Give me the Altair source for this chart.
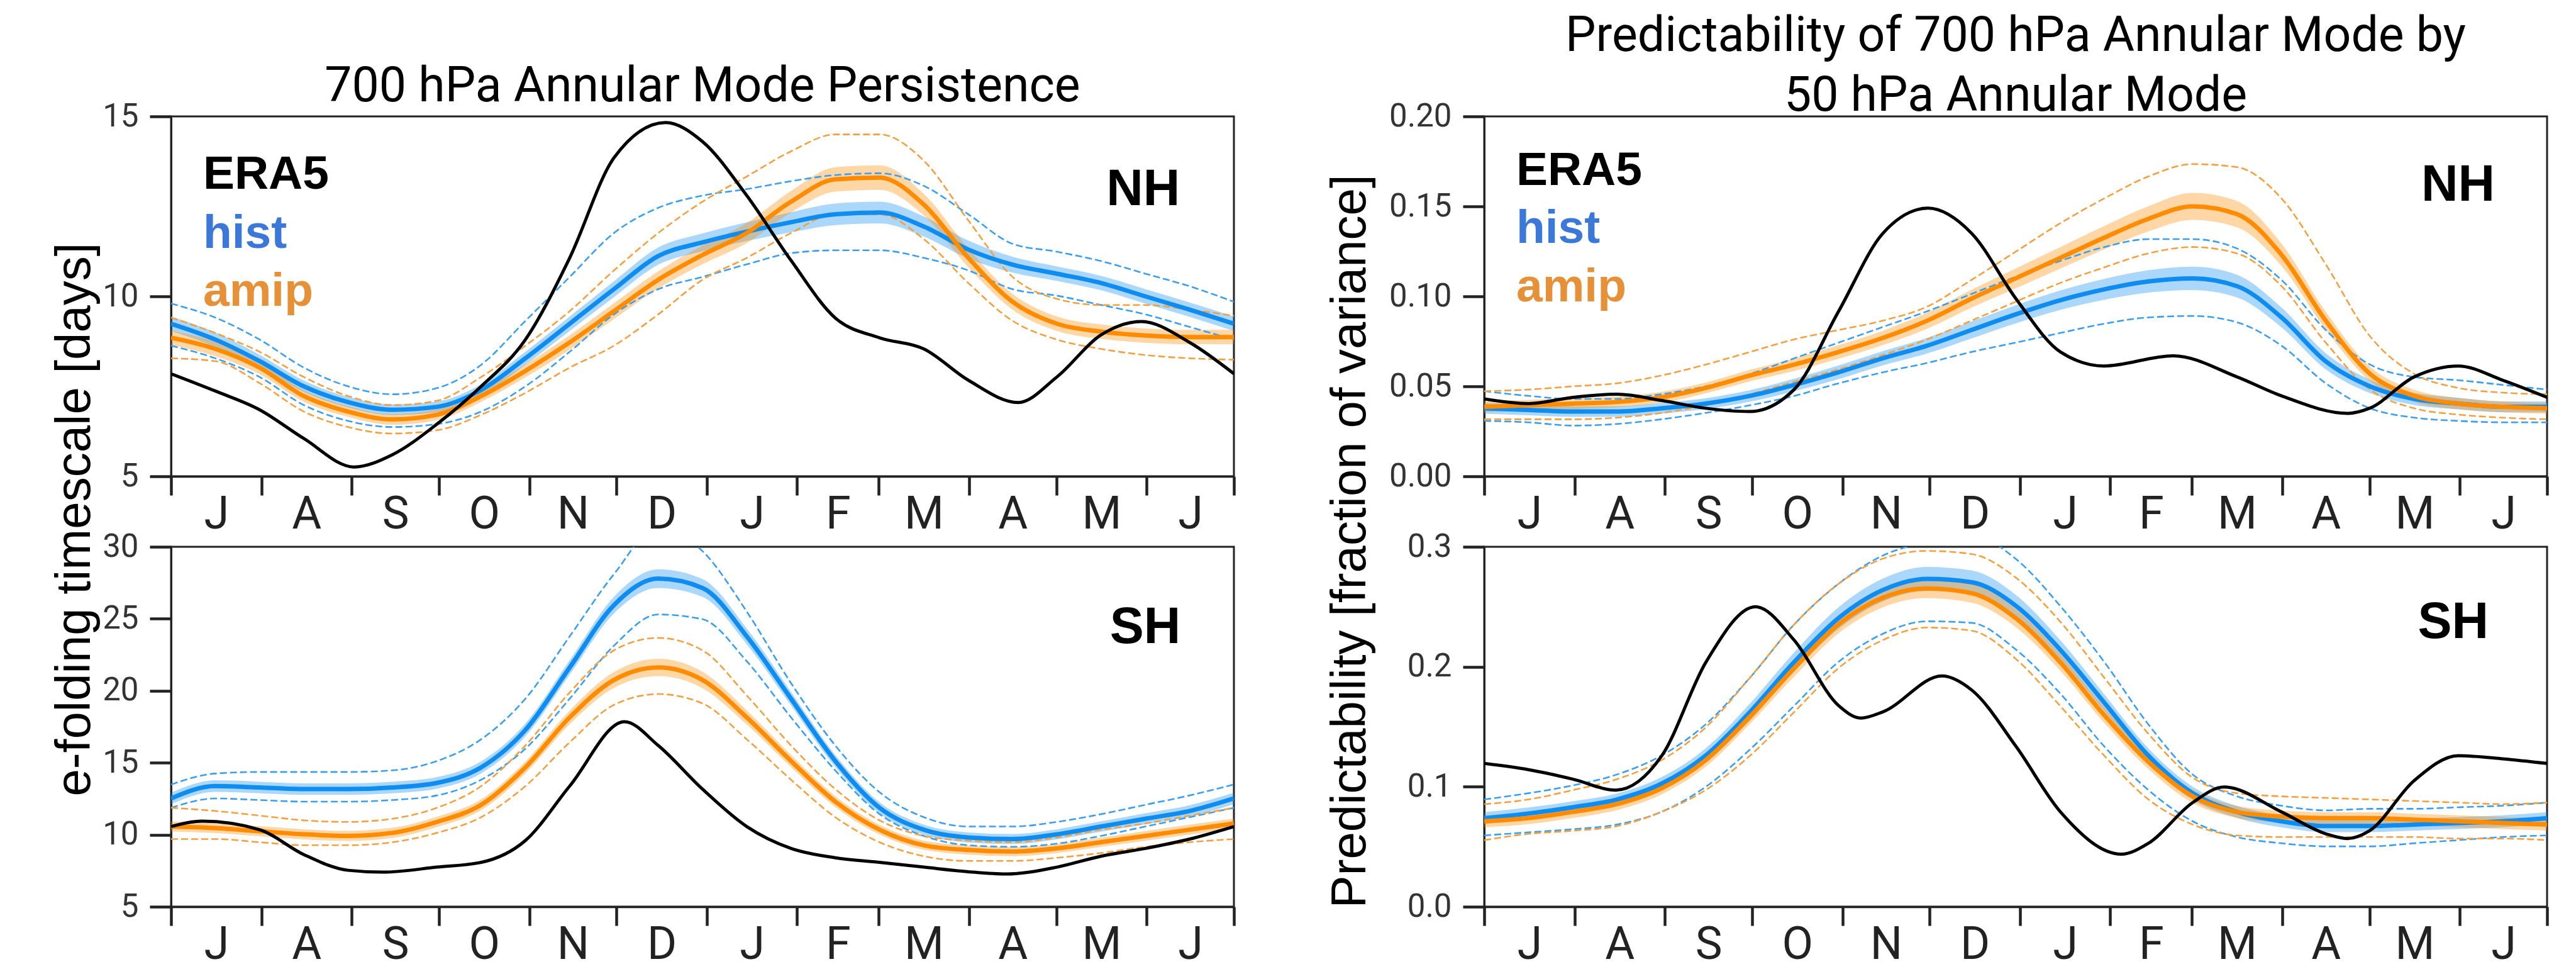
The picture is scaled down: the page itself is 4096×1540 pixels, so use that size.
import altair as alt
import pandas as pd

# ---------------- shared axis data ----------------
DAYS = [0, 15.2, 30.4, 45.6, 60.8, 76.0, 91.3, 106.5, 121.7, 136.9, 152.1, 167.3,
        182.5, 197.7, 212.9, 228.1, 243.3, 258.5, 273.8, 289.0, 304.2, 319.4,
        334.6, 349.8, 365.0]
MONTH_STARTS = [0, 31, 62, 92, 123, 153, 184, 215, 243, 274, 304, 335, 365]
MONTH_MIDS = [15.5, 46.5, 77, 107.5, 138, 168.5, 199.5, 229, 258.5, 289, 319.5, 350]
MONTH_LABELS = ["J", "A", "S", "O", "N", "D", "J", "F", "M", "A", "M", "J"]

# ---------------- NH persistence (top left) ----------------
NHP_ERA5_DAYS = [0, 15.2, 30.4, 45.6, 62.8, 76.0, 91.3, 106.5, 121.7, 136.9, 152.1,
                 169.8, 182.5, 197.7, 212.9, 228.1, 243.3, 258.5, 273.8, 290.9,
                 304.2, 319.4, 333.2, 349.8, 365.0]
NHP_ERA5 = [7.85, 7.37, 6.85, 6.05, 5.26, 5.6, 6.45, 7.5, 8.8, 11.07, 13.85, 14.83,
            14.3, 12.8, 11.0, 9.4, 8.85, 8.54, 7.67, 7.05, 7.76, 8.93, 9.3, 8.72, 7.85]
NHP_HIST = [9.24, 8.8, 8.2, 7.5, 7.06, 6.85, 6.93, 7.4, 8.28, 9.24, 10.2, 11.12, 11.5,
            11.8, 12.06, 12.28, 12.33, 11.94, 11.3, 10.88, 10.63, 10.37, 10.0, 9.63, 9.24]
NHP_HIST_HI = [9.8, 9.41, 8.8, 8.02, 7.5, 7.28, 7.45, 8.1, 9.32, 10.54, 11.76, 12.46,
               12.8, 12.98, 13.2, 13.37, 13.42, 13.07, 12.28, 11.46, 11.24, 10.98,
               10.63, 10.28, 9.85]
NHP_HIST_LO = [8.63, 8.28, 7.76, 6.98, 6.54, 6.37, 6.45, 6.8, 7.5, 8.46, 9.5, 10.2,
               10.54, 10.89, 11.2, 11.28, 11.28, 11.07, 10.72, 10.2, 10.02, 9.76, 9.5,
               9.15, 8.8]
NHP_HIST_BAND = [0.2, 0.2, 0.18, 0.16, 0.15, 0.15, 0.15, 0.16, 0.18, 0.2, 0.22, 0.24,
                 0.25, 0.26, 0.28, 0.3, 0.3, 0.28, 0.25, 0.22, 0.2, 0.2, 0.2, 0.2, 0.2]
NHP_AMIP = [8.85, 8.54, 8.02, 7.23, 6.8, 6.58, 6.71, 7.23, 7.93, 8.72, 9.59, 10.46,
            11.15, 11.76, 12.63, 13.25, 13.3, 12.55, 11.07, 9.85, 9.24, 9.02, 8.91,
            8.87, 8.87]
NHP_AMIP_HI = [9.41, 8.98, 8.46, 7.76, 7.23, 6.98, 7.1, 7.76, 8.63, 9.59, 10.72, 11.76,
               12.63, 13.33, 14.03, 14.5, 14.5, 13.77, 12.11, 10.54, 9.93, 9.76, 9.76,
               9.63, 9.46]
NHP_AMIP_LO = [8.28, 8.2, 7.59, 6.8, 6.37, 6.19, 6.28, 6.71, 7.32, 8.02, 8.63, 9.5,
               10.46, 11.07, 11.76, 12.28, 12.28, 11.59, 10.37, 9.32, 8.8, 8.54, 8.37,
               8.28, 8.24]
NHP_AMIP_BAND = [0.2, 0.2, 0.18, 0.16, 0.15, 0.15, 0.15, 0.16, 0.18, 0.2, 0.22, 0.24,
                 0.26, 0.28, 0.3, 0.34, 0.34, 0.3, 0.26, 0.22, 0.2, 0.2, 0.2, 0.2, 0.2]

# ---------------- SH persistence (bottom left) ----------------
SHP_ERA5_DAYS = [0, 10.7, 30.4, 45.6, 60.8, 72.7, 91.3, 106.5, 121.7, 136.9, 155.7,
                 167.3, 182.5, 197.7, 212.9, 228.1, 243.3, 258.5, 273.8, 286.7, 304.2,
                 319.4, 334.6, 349.8, 365.0]
SHP_ERA5 = [10.57, 10.94, 10.35, 8.62, 7.53, 7.4, 7.75, 8.08, 9.6, 13.38, 17.85, 16.2,
            13.17, 10.57, 9.05, 8.4, 8.08, 7.75, 7.43, 7.27, 7.75, 8.51, 9.05, 9.7, 10.57]
SHP_HIST = [12.52, 13.38, 13.28, 13.17, 13.17, 13.28, 13.6, 14.68, 17.28, 21.62, 25.95,
            27.79, 27.14, 23.78, 19.45, 15.12, 11.87, 10.35, 9.81, 9.7, 10.03, 10.57,
            11.11, 11.65, 12.52]
SHP_HIST_HI = [13.49, 14.25, 14.36, 14.36, 14.36, 14.47, 15.12, 16.63, 19.45, 23.78,
               28.1, 31.4, 29.7, 25.5, 20.53, 16.2, 12.95, 11.22, 10.57, 10.57, 10.89,
               11.43, 12.08, 12.73, 13.49]
SHP_HIST_LO = [11.87, 12.52, 12.41, 12.3, 12.3, 12.41, 12.73, 13.82, 15.98, 19.45,
               23.13, 25.3, 24.97, 22.05, 18.15, 14.47, 11.43, 9.92, 9.27, 9.16, 9.38,
               9.92, 10.57, 11.22, 11.87]
SHP_HIST_BAND = [0.4, 0.4, 0.4, 0.4, 0.4, 0.4, 0.4, 0.42, 0.45, 0.5, 0.58, 0.65, 0.62,
                 0.55, 0.48, 0.42, 0.38, 0.35, 0.35, 0.35, 0.35, 0.36, 0.38, 0.4, 0.4]
SHP_AMIP = [10.57, 10.46, 10.24, 10.03, 9.92, 10.13, 10.89, 12.08, 14.68, 18.15, 20.75,
            21.62, 20.75, 18.15, 15.12, 12.3, 10.35, 9.27, 8.94, 8.83, 9.05, 9.48, 9.92,
            10.35, 10.78]
SHP_AMIP_HI = [11.87, 11.65, 11.33, 11.0, 10.89, 11.11, 11.87, 13.38, 16.2, 19.88,
               22.81, 23.67, 22.81, 19.67, 16.2, 13.17, 11.0, 9.92, 9.59, 9.48, 9.81,
               10.35, 10.78, 11.33, 11.87]
SHP_AMIP_LO = [9.7, 9.7, 9.48, 9.27, 9.27, 9.48, 10.13, 11.22, 13.38, 16.42, 19.02,
               19.77, 19.12, 16.63, 13.82, 11.22, 9.48, 8.51, 8.18, 8.18, 8.4, 8.73,
               9.16, 9.48, 9.7]
SHP_AMIP_BAND = [0.35, 0.35, 0.35, 0.35, 0.35, 0.35, 0.36, 0.38, 0.42, 0.48, 0.55, 0.6,
                 0.57, 0.5, 0.43, 0.38, 0.34, 0.32, 0.32, 0.32, 0.32, 0.33, 0.34, 0.35,
                 0.35]

# ---------------- NH predictability (top right) ----------------
NHR_ERA5_DAYS = [0, 15.2, 30.5, 45.7, 61.0, 76.2, 91.2, 106.4, 121.7, 136.9, 152.4,
                 167.4, 182.6, 197.9, 212.8, 236.6, 258.6, 273.8, 296.7, 304.0, 319.3,
                 334.5, 349.8, 365.0]
NHR_ERA5 = [0.043, 0.0404, 0.0439, 0.0456, 0.0421, 0.0378, 0.036, 0.0482, 0.0917,
            0.135, 0.149, 0.135, 0.0987, 0.0691, 0.0613, 0.067, 0.0552, 0.0447, 0.035,
            0.0378, 0.0552, 0.0613, 0.0534, 0.0439]
NHR_HIST = [0.0378, 0.0369, 0.036, 0.036, 0.0378, 0.0404, 0.0447, 0.0508, 0.0578,
            0.0656, 0.0726, 0.0813, 0.09, 0.0978, 0.1039, 0.1083, 0.11, 0.1057, 0.0883,
            0.0639, 0.05, 0.043, 0.0404, 0.0386, 0.0386]
NHR_HIST_HI = [0.0473, 0.0447, 0.043, 0.043, 0.0456, 0.05, 0.0569, 0.0656, 0.0743,
               0.083, 0.0917, 0.1013, 0.1109, 0.1196, 0.1274, 0.1318, 0.1318, 0.1266,
               0.1091, 0.0813, 0.0621, 0.0552, 0.0534, 0.0508, 0.0482]
NHR_HIST_LO = [0.0308, 0.03, 0.0282, 0.0291, 0.0317, 0.0352, 0.0395, 0.0447, 0.0517,
               0.0578, 0.063, 0.0691, 0.0743, 0.0796, 0.0848, 0.0883, 0.0891, 0.0856,
               0.0726, 0.0517, 0.0378, 0.0326, 0.0308, 0.03, 0.03]
NHR_HIST_BAND = [0.003, 0.003, 0.003, 0.003, 0.003, 0.003, 0.0032, 0.0035, 0.0038,
                 0.004, 0.0043, 0.0047, 0.005, 0.0054, 0.0058, 0.0062, 0.0065, 0.0063,
                 0.0055, 0.0045, 0.0038, 0.0034, 0.0032, 0.003, 0.003]
NHR_AMIP = [0.0386, 0.0395, 0.0404, 0.0413, 0.0439, 0.0491, 0.056, 0.0621, 0.0691,
            0.0769, 0.0865, 0.0987, 0.11, 0.1213, 0.1326, 0.1431, 0.15, 0.1457, 0.1231,
            0.0865, 0.0569, 0.0447, 0.0404, 0.0386, 0.0378]
NHR_AMIP_HI = [0.0473, 0.0482, 0.05, 0.0517, 0.056, 0.0621, 0.0691, 0.0761, 0.0813,
               0.0865, 0.0943, 0.1091, 0.1248, 0.1405, 0.1544, 0.1666, 0.1735, 0.1718,
               0.1544, 0.1178, 0.0778, 0.0569, 0.0491, 0.0465, 0.0456]
NHR_AMIP_LO = [0.0317, 0.0317, 0.0317, 0.0326, 0.0352, 0.0395, 0.0456, 0.0526, 0.0595,
               0.0674, 0.0761, 0.0865, 0.097, 0.1074, 0.1161, 0.1239, 0.1274, 0.1239,
               0.1057, 0.0743, 0.0482, 0.0378, 0.0343, 0.0326, 0.0317]
NHR_AMIP_BAND = [0.003, 0.003, 0.003, 0.003, 0.003, 0.003, 0.0032, 0.0035, 0.0038,
                 0.004, 0.0045, 0.005, 0.0055, 0.006, 0.0065, 0.007, 0.0075, 0.0073,
                 0.0062, 0.005, 0.004, 0.0034, 0.0032, 0.003, 0.003]

# ---------------- SH predictability (bottom right) ----------------
SHR_ERA5_DAYS = [0, 15.2, 30.5, 45.2, 61.0, 76.2, 93.2, 106.4, 121.7, 129.3, 136.9,
                 157.2, 167.4, 182.6, 197.9, 218.8, 228.1, 243.3, 254.1, 273.8, 289.1,
                 296.4, 304.0, 319.3, 334.5, 349.8, 365.0]
SHR_ERA5 = [0.1194, 0.1142, 0.1063, 0.0972, 0.1259, 0.2041, 0.25, 0.2223, 0.1676,
            0.1572, 0.1624, 0.1923, 0.1806, 0.1337, 0.079, 0.0438, 0.0529, 0.0868,
            0.0998, 0.079, 0.0607, 0.0568, 0.0633, 0.105, 0.1259, 0.1233, 0.1194]
SHR_HIST = [0.0738, 0.0777, 0.0829, 0.0894, 0.1024, 0.1259, 0.1624, 0.2041, 0.2406,
            0.264, 0.2732, 0.2705, 0.251, 0.2145, 0.1702, 0.1259, 0.0946, 0.079, 0.0712,
            0.0672, 0.0672, 0.0685, 0.0698, 0.0712, 0.0738]
SHR_HIST_HI = [0.0894, 0.0946, 0.1011, 0.1102, 0.1259, 0.1519, 0.191, 0.2354, 0.2692,
               0.2927, 0.304, 0.31, 0.29, 0.251, 0.2041, 0.1519, 0.1102, 0.092, 0.0842,
               0.0803, 0.0816, 0.0816, 0.0829, 0.0842, 0.0868]
SHR_HIST_LO = [0.0594, 0.062, 0.0646, 0.0685, 0.079, 0.0998, 0.1311, 0.1676, 0.2041,
               0.2275, 0.2379, 0.2366, 0.2145, 0.178, 0.1337, 0.0972, 0.0712, 0.0581,
               0.0529, 0.0503, 0.0503, 0.0529, 0.0555, 0.0581, 0.0594]
SHR_HIST_BAND = [0.005, 0.005, 0.005, 0.005, 0.0055, 0.006, 0.007, 0.008, 0.009, 0.0095,
                 0.01, 0.0098, 0.009, 0.008, 0.007, 0.006, 0.0055, 0.005, 0.005, 0.005,
                 0.005, 0.005, 0.005, 0.005, 0.005]
SHR_AMIP = [0.0712, 0.0738, 0.079, 0.0855, 0.0985, 0.122, 0.1585, 0.1989, 0.2354, 0.2575,
            0.2653, 0.2614, 0.2406, 0.2041, 0.1598, 0.1207, 0.092, 0.079, 0.0751, 0.0738,
            0.0738, 0.0725, 0.0712, 0.0698, 0.0685]
SHR_AMIP_HI = [0.0855, 0.0894, 0.0972, 0.1063, 0.122, 0.1493, 0.191, 0.2354, 0.2692,
               0.2901, 0.2966, 0.294, 0.2744, 0.2379, 0.191, 0.1441, 0.1076, 0.0946,
               0.092, 0.0907, 0.0894, 0.0881, 0.0868, 0.0855, 0.0868]
SHR_AMIP_LO = [0.0555, 0.0607, 0.0633, 0.0672, 0.079, 0.0972, 0.1259, 0.1624, 0.1989,
               0.2223, 0.2327, 0.2301, 0.2067, 0.1676, 0.1259, 0.0894, 0.0685, 0.0594,
               0.0581, 0.0581, 0.0581, 0.0581, 0.0568, 0.0568, 0.0555]
SHR_AMIP_BAND = [0.005, 0.005, 0.005, 0.005, 0.005, 0.0055, 0.006, 0.007, 0.0075, 0.008,
                 0.008, 0.008, 0.0075, 0.007, 0.0065, 0.006, 0.0055, 0.005, 0.005, 0.005,
                 0.005, 0.005, 0.005, 0.005, 0.005]

# ---------------- text ----------------
LEGEND_TEXT = ["ERA5", "hist", "amip"]
LEGEND_COLORS = ["#000000", "#3c78d8", "#e69138"]
TITLE_LEFT = "700 hPa Annular Mode Persistence"
TITLE_RIGHT = ["Predictability of 700 hPa Annular Mode by", "50 hPa Annular Mode"]
YTITLE_LEFT = "e-folding timescale [days]"
YTITLE_RIGHT = "Predictability [fraction of variance]"

# ---------------- styling ----------------
W, H = 1690, 572
BLUE, ORANGE = "#0f8cf0", "#ff8c00"
BLUE_DASH, ORANGE_DASH = "#3a9ff0", "#f4a040"
DARK = "#222222"

mids_js = "[" + ",".join(str(v) for v in MONTH_MIDS) + "]"
labs_js = "[" + ",".join("'%s'" % m for m in MONTH_LABELS) + "]"


def x_axis():
    return alt.Axis(
        values=MONTH_STARTS + MONTH_MIDS, title=None, grid=False,
        labelExpr=f"indexof({mids_js}, datum.value) >= 0 ? {labs_js}[indexof({mids_js}, datum.value)] : ''",
        tickOpacity={"condition": {"test": f"indexof({mids_js}, datum.value) >= 0", "value": 0}, "value": 1},
        tickSize=30, tickWidth=4.5, tickColor=DARK, domainColor=DARK, domainWidth=3.3,
        labelFont="Roboto", labelFontSize=72, labelColor=DARK, labelBaseline="alphabetic",
        labelPadding=52, labelOverlap=False, labelFlush=False)


def y_axis(values, fmt, title=None, tx=0, ty=0):
    kw = dict(values=values, format=fmt, grid=False, tickSize=34, tickWidth=4.5,
              tickColor=DARK, domainColor=DARK, domainWidth=3,
              labelFont="Roboto", labelFontSize=51, labelColor="#333333", labelPadding=18,
              labelOverlap=False, labelFlush=False)
    if title:
        kw.update(title=title, titleFont="Liberation Sans", titleFontSize=78,
                  titleFontWeight="normal", titleColor="#000000", titleAngle=270,
                  titleAlign="center", titleBaseline="alphabetic", titleX=tx, titleY=ty)
    else:
        kw["title"] = None
    return alt.Axis(**kw)


def panel(era_days, era, hist, hist_hi, hist_lo, hist_bw, amip, amip_hi, amip_lo, amip_bw,
          ydom, yvals, yfmt, region, region_pos, legend_pos=None, ytitle=None, tx=0, ty=0,
          title=None):
    xs = alt.Scale(domain=[0, 365], nice=False, zero=False)
    ys = alt.Scale(domain=ydom, nice=False, zero=False)
    xa = x_axis()
    ya = y_axis(yvals, yfmt, ytitle, tx, ty)
    X = alt.X("day:Q", scale=xs, axis=xa)

    band = pd.DataFrame({
        "day": DAYS,
        "hlo": [m - b for m, b in zip(hist, hist_bw)], "hhi": [m + b for m, b in zip(hist, hist_bw)],
        "alo": [m - b for m, b in zip(amip, amip_bw)], "ahi": [m + b for m, b in zip(amip, amip_bw)],
    })
    rows = []
    for model, hi, lo in (("hist", hist_hi, hist_lo), ("amip", amip_hi, amip_lo)):
        for d, h, l in zip(DAYS, hi, lo):
            rows.append({"day": d, "value": h, "model": model, "bound": "hi"})
            rows.append({"day": d, "value": l, "model": model, "bound": "lo"})
    dashed = pd.DataFrame(rows)
    means = pd.DataFrame({"day": DAYS, "hist": hist, "amip": amip})
    era_df = pd.DataFrame({"day": era_days, "value": era})

    layers = []
    for lo, hi, col in (("hlo", "hhi", BLUE), ("alo", "ahi", ORANGE)):
        layers.append(alt.Chart(band).mark_area(color=col, opacity=0.35, interpolate="monotone", clip=True)
                      .encode(x=X, y=alt.Y(f"{lo}:Q", scale=ys, axis=ya), y2=f"{hi}:Q"))
    for model, col in (("hist", BLUE_DASH), ("amip", ORANGE_DASH)):
        layers.append(alt.Chart(dashed).transform_filter(f"datum.model == '{model}'")
                      .mark_line(color=col, strokeWidth=2.6, strokeDash=[11, 5], interpolate="monotone", clip=True)
                      .encode(x=X, y=alt.Y("value:Q", scale=ys, axis=ya), detail="bound:N"))
    for model, col in (("hist", BLUE), ("amip", ORANGE)):
        layers.append(alt.Chart(means).mark_line(color=col, strokeWidth=7, interpolate="monotone", clip=True)
                      .encode(x=X, y=alt.Y(f"{model}:Q", scale=ys, axis=ya)))
    layers.append(alt.Chart(era_df).mark_line(color="#000000", strokeWidth=5, interpolate="monotone", clip=True)
                  .encode(x=X, y=alt.Y("value:Q", scale=ys, axis=ya)))

    reg_df = pd.DataFrame({"day": [region_pos[0]], "value": [region_pos[1]], "t": [region]})
    layers.append(alt.Chart(reg_df).mark_text(align="right", baseline="alphabetic", font="Liberation Sans",
                                              fontWeight="bold", fontSize=81, color="#000000")
                  .encode(x=X, y=alt.Y("value:Q", scale=ys, axis=ya), text="t:N"))
    if legend_pos is not None:
        leg_df = pd.DataFrame({"day": [legend_pos[0]] * 3, "value": legend_pos[1],
                               "t": LEGEND_TEXT, "c": LEGEND_COLORS})
        layers.append(alt.Chart(leg_df).mark_text(align="left", baseline="alphabetic", font="Liberation Sans",
                                                  fontWeight="bold", fontSize=75)
                      .encode(x=X, y=alt.Y("value:Q", scale=ys, axis=ya), text="t:N",
                              color=alt.Color("c:N", scale=None)))
    ch = alt.layer(*layers).properties(width=W, height=H)
    if title is not None:
        ch = ch.properties(title=title)
    return ch


t_left = alt.TitleParams(text=TITLE_LEFT, font="Roboto", fontSize=77, fontWeight="normal", color="#000000",
                         anchor="middle", frame="group", baseline="alphabetic", offset=-79)
t_right = alt.TitleParams(text=TITLE_RIGHT, font="Roboto", fontSize=77, fontWeight="normal", color="#000000",
                          anchor="middle", frame="group", baseline="alphabetic", offset=-94, lineHeight=95)

nh_left = panel(NHP_ERA5_DAYS, NHP_ERA5, NHP_HIST, NHP_HIST_HI, NHP_HIST_LO, NHP_HIST_BAND,
                NHP_AMIP, NHP_AMIP_HI, NHP_AMIP_LO, NHP_AMIP_BAND,
                [5, 15], [5, 10, 15], "d", "NH", (346.5, 12.54),
                legend_pos=(11, [12.99, 11.34, 9.74]), ytitle=YTITLE_LEFT, tx=-130, ty=640,
                title=t_left)
sh_left = panel(SHP_ERA5_DAYS, SHP_ERA5, SHP_HIST, SHP_HIST_HI, SHP_HIST_LO, SHP_HIST_BAND,
                SHP_AMIP, SHP_AMIP_HI, SHP_AMIP_LO, SHP_AMIP_BAND,
                [5, 30], [5, 10, 15, 20, 25, 30], "d", "SH", (346.7, 23.31))
nh_right = panel(NHR_ERA5_DAYS, NHR_ERA5, NHR_HIST, NHR_HIST_HI, NHR_HIST_LO, NHR_HIST_BAND,
                 NHR_AMIP, NHR_AMIP_HI, NHR_AMIP_LO, NHR_AMIP_BAND,
                 [0, 0.2], [0, 0.05, 0.1, 0.15, 0.2], ".2f", "NH", (347.1, 0.1531),
                 legend_pos=(11, [0.162, 0.1298, 0.0972]), ytitle=YTITLE_RIGHT, tx=-190, ty=675,
                 title=t_right)
sh_right = panel(SHR_ERA5_DAYS, SHR_ERA5, SHR_HIST, SHR_HIST_HI, SHR_HIST_LO, SHR_HIST_BAND,
                 SHR_AMIP, SHR_AMIP_HI, SHR_AMIP_LO, SHR_AMIP_BAND,
                 [0, 0.3], [0, 0.1, 0.2, 0.3], ".1f", "SH", (344.9, 0.224))

chart = (alt.concat(nh_left, nh_right, sh_left, sh_right, columns=2,
                    spacing={"row": 112, "column": 398}, bounds="flush")
         .properties(padding={"left": 78, "top": 17, "right": 10, "bottom": 2}, background="white")
         .configure_view(stroke=DARK, strokeWidth=3))

chart.save("out.html", embed_options={"renderer": "svg", "actions": False})
